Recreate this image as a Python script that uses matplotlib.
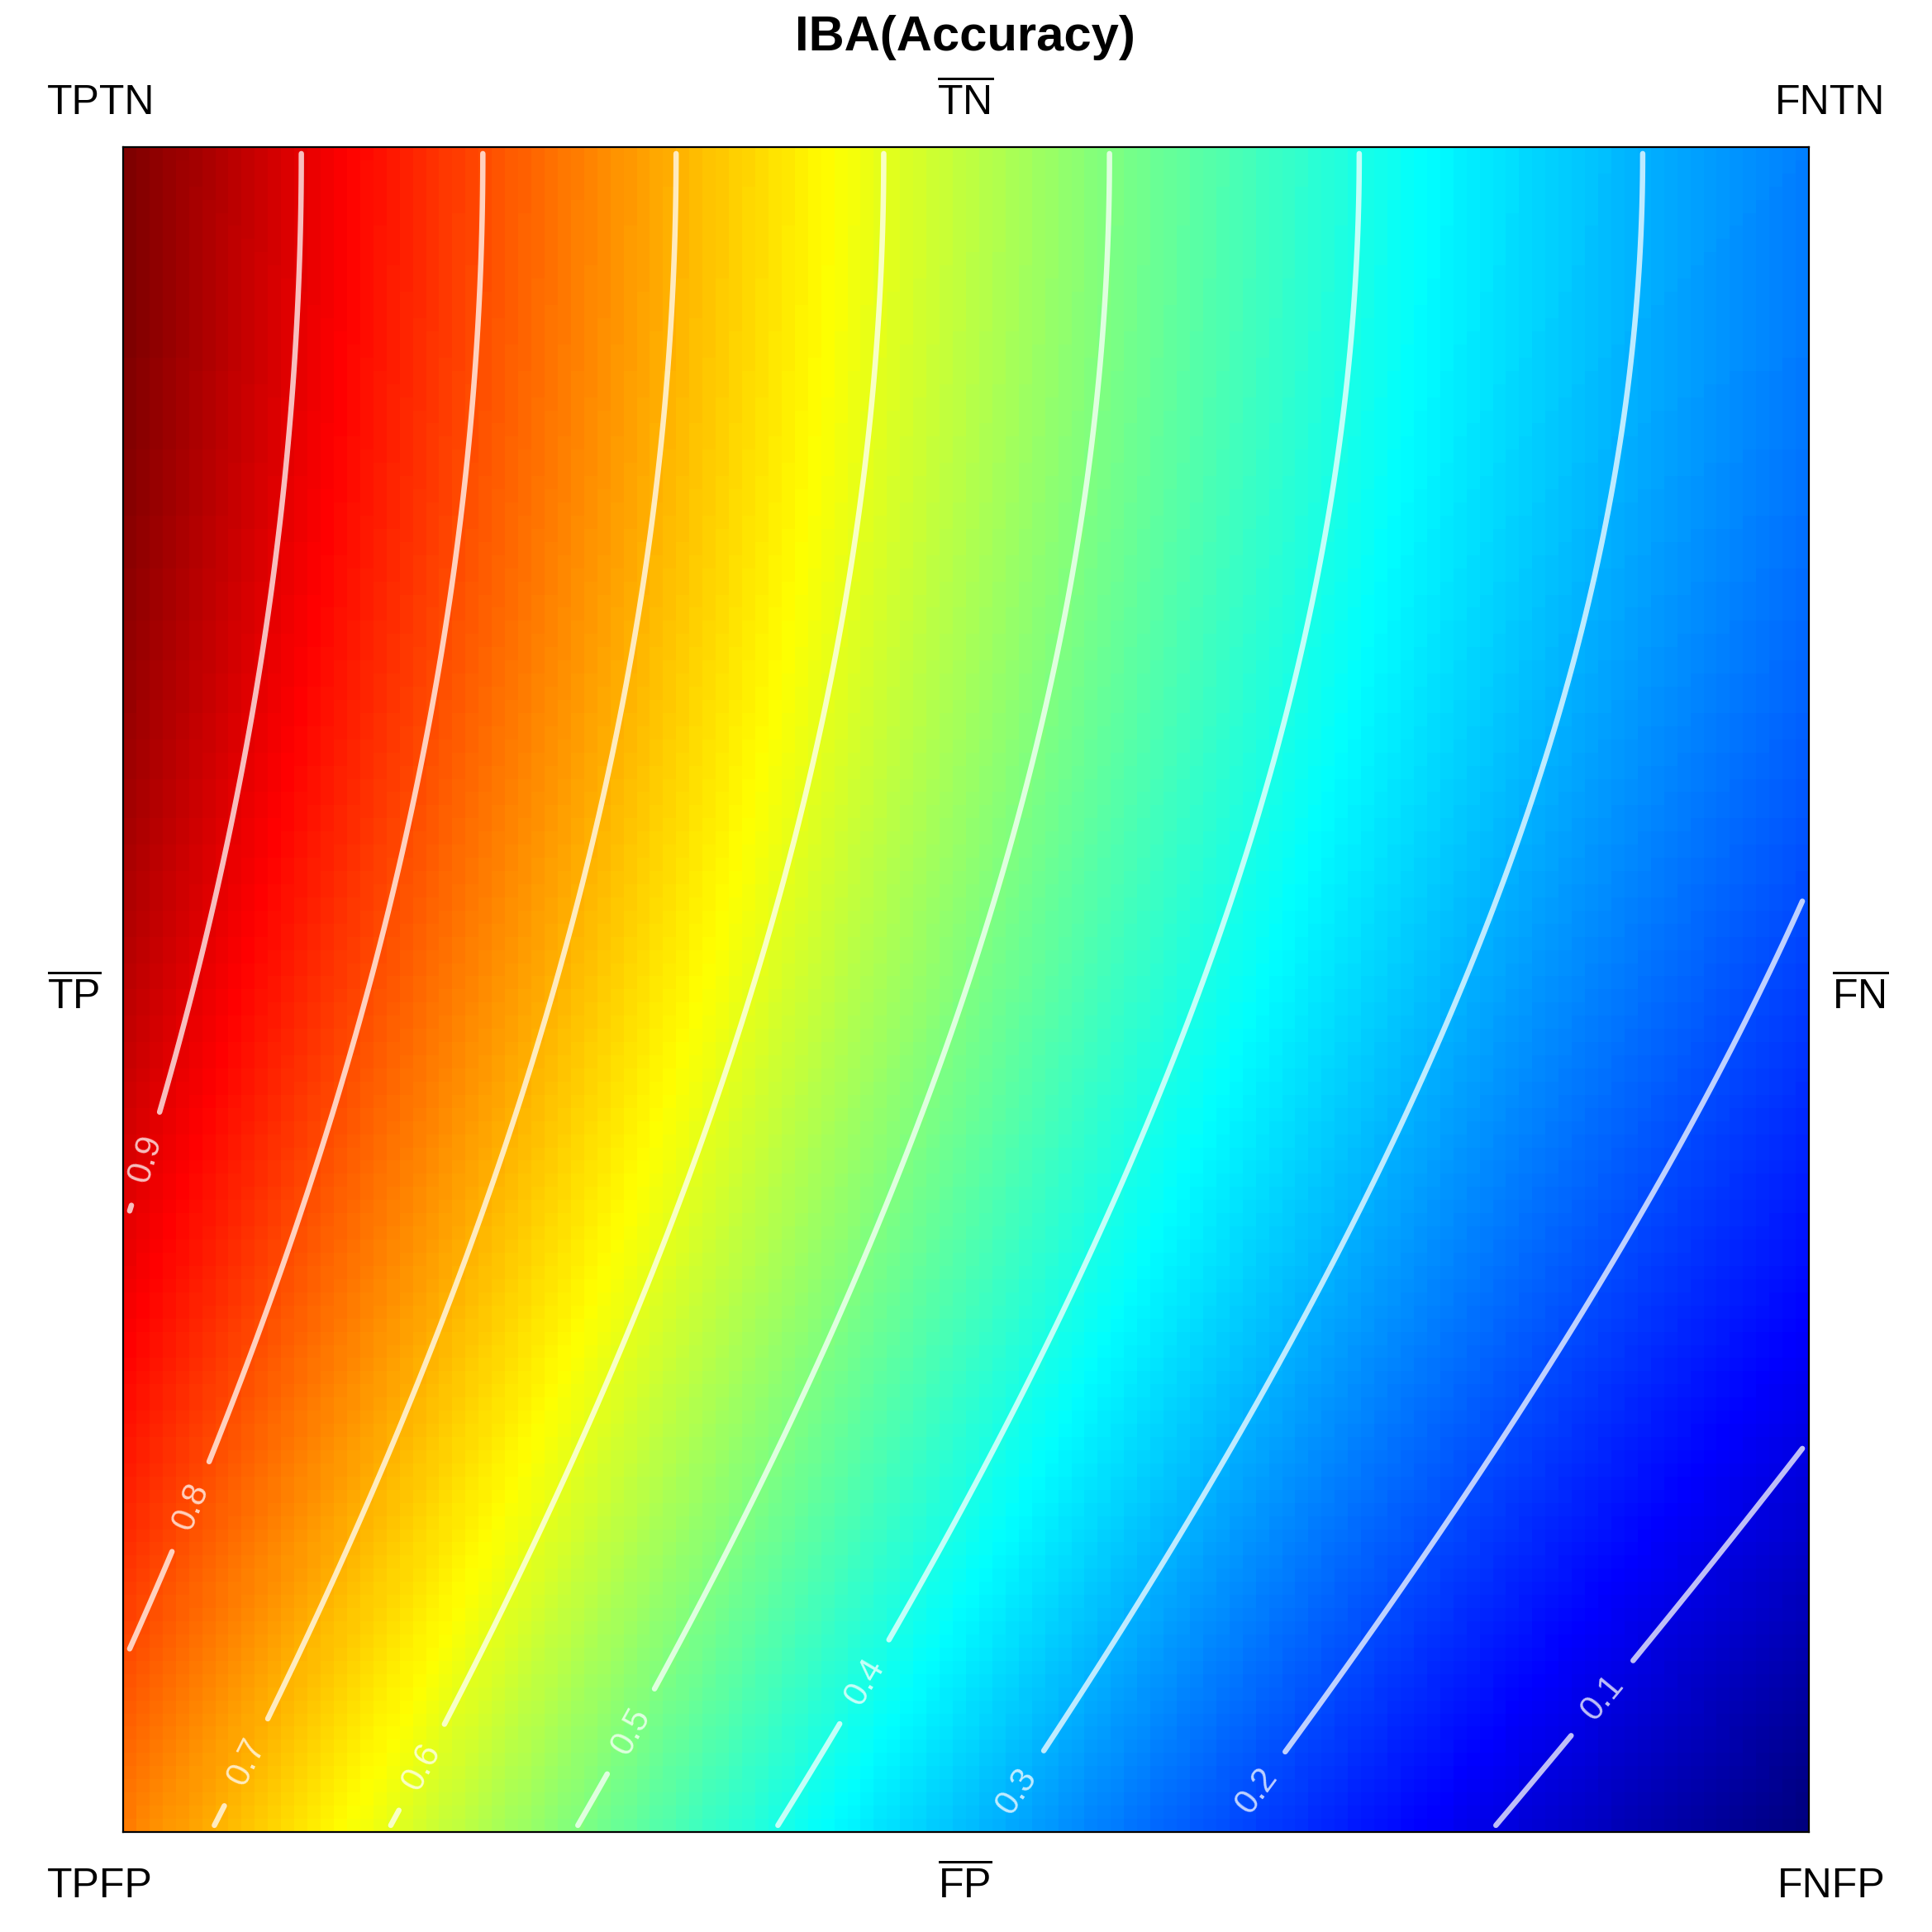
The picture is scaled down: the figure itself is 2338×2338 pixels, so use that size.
import matplotlib
matplotlib.use("Agg")
import matplotlib.pyplot as plt
import numpy as np
from matplotlib.colors import LinearSegmentedColormap

# rates over the square: left -> right the positives go from all TP to all FN,
# bottom -> top the negatives go from all FP to all TN
n_cells = 128
fn_share = np.linspace(0, 1, n_cells)
tn_rate = np.linspace(0, 1, n_cells)
alpha = 0.5

levels = [0.1, 0.2, 0.3, 0.4, 0.5, 0.6, 0.7, 0.8, 0.9]
# where the contour labels sit (fn share, tn rate)
label_x = [0.878, 0.677, 0.534, 0.439, 0.300, 0.176, 0.069, 0.038, 0.012]
label_y = [0.078, 0.018, 0.018, 0.086, 0.056, 0.034, 0.038, 0.190, 0.398]

title = "IBA(Accuracy)"
top_labels = ["TPTN", r"$\overline{\mathrm{TN}}$", "FNTN"]
bottom_labels = ["TPFP", r"$\overline{\mathrm{FP}}$", "FNFP"]
side_labels = [r"$\overline{\mathrm{TP}}$", r"$\overline{\mathrm{FN}}$"]

# classic jet ramp
jet_colors = ["#00007F", "#0000FF", "#007FFF", "#00FFFF", "#7FFF7F",
              "#FFFF00", "#FF7F00", "#FF0000", "#7F0000"]
jet = LinearSegmentedColormap.from_list("jet9", jet_colors)

# IBA_alpha(Accuracy) = (1 + alpha * (TPR - TNR)) * Accuracy
X, Y = np.meshgrid(fn_share, tn_rate)
tpr = 1 - X
acc = (tpr + Y) / 2
iba = (1 + alpha * (tpr - Y)) * acc

plt.rcParams["font.family"] = "Liberation Sans"
plt.rcParams["mathtext.fontset"] = "custom"
plt.rcParams["mathtext.rm"] = "Liberation Sans"

fig = plt.figure(figsize=(23.38, 23.38), dpi=100)
ax = fig.add_axes([0.0637, 0.0518, 0.9363 - 0.0637, 0.9239 - 0.0518])

h = 1 / (n_cells - 1)
ax.pcolormesh(X, Y, iba, cmap=jet, vmin=0, vmax=1, shading="nearest")
cs = ax.contour(X, Y, iba, levels=levels, colors="white", alpha=0.75, linewidths=4.7)
cs.set_capstyle("round")
ax.clabel(cs, fmt="%.1f", manual=list(zip(label_x, label_y)), fontsize=30,
          inline=True, inline_spacing=30, colors="white")

ax.set_xlim(-h / 2, 1 + h / 2)
ax.set_ylim(-h / 2, 1 + h / 2)
ax.set_xticks([])
ax.set_yticks([])
for sp in ax.spines.values():
    sp.set_linewidth(1.6)

fig.text(0.4996, 0.974, title, ha="center", va="baseline", fontsize=43, fontweight="bold")

fs = 36
fig.text(0.0243, 0.941, top_labels[0], ha="left", va="baseline", fontsize=fs)
fig.text(0.4996, 0.941, top_labels[1], ha="center", va="baseline", fontsize=fs)
fig.text(0.9757, 0.941, top_labels[2], ha="right", va="baseline", fontsize=fs)
fig.text(0.0243, 0.018, bottom_labels[0], ha="left", va="baseline", fontsize=fs)
fig.text(0.4996, 0.018, bottom_labels[1], ha="center", va="baseline", fontsize=fs)
fig.text(0.9757, 0.018, bottom_labels[2], ha="right", va="baseline", fontsize=fs)
fig.text(0.0243, 0.478, side_labels[0], ha="left", va="baseline", fontsize=fs)
fig.text(0.9775, 0.478, side_labels[1], ha="right", va="baseline", fontsize=fs)

fig.savefig("out.png", dpi=100)
